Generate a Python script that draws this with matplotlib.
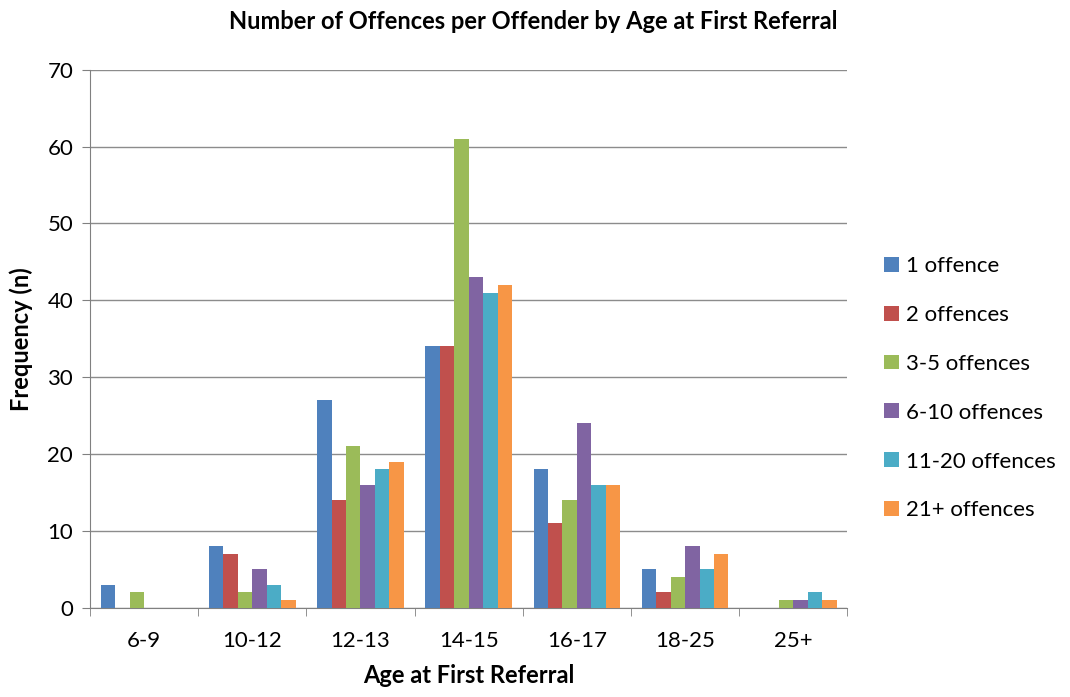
import matplotlib
matplotlib.use("Agg")
import matplotlib.pyplot as plt
import numpy as np

plt.rcParams['font.family'] = ['Lato', 'DejaVu Sans']

categories = ["6-9", "10-12", "12-13", "14-15", "16-17", "18-25", "25+"]
series_names = ["1 offence", "2 offences", "3-5 offences", "6-10 offences", "11-20 offences", "21+ offences"]
s1 = [3, 8, 27, 34, 18, 5, 0]
s2 = [0, 7, 14, 34, 11, 2, 0]
s3 = [2, 2, 21, 61, 14, 4, 1]
s4 = [0, 5, 16, 43, 24, 8, 1]
s5 = [0, 3, 18, 41, 16, 5, 2]
s6 = [0, 1, 19, 42, 16, 7, 1]
series = [s1, s2, s3, s4, s5, s6]
colors = ["#4F81BD", "#C0504D", "#9BBB59", "#8064A2", "#4BACC6", "#F79646"]

fig = plt.figure(figsize=(10.7, 6.97), dpi=100)
ax = fig.add_axes([0.084, 0.128, 0.708, 0.772])

x = np.arange(len(categories))
w = 0.8 / 6
for i, (vals, name, c) in enumerate(zip(series, series_names, colors)):
    ax.bar(x - 0.4 + w * (i + 0.5), vals, width=w, color=c, label=name, zorder=3)

ax.set_xlim(-0.5, len(categories) - 0.5)
ax.set_ylim(0, 70)
ax.set_yticks(range(0, 71, 10))
ax.yaxis.grid(True, color="#8c8c8c", linewidth=1, zorder=0)
ax.set_xticks(x)
ax.set_xticklabels(categories, fontsize=16)
ax.set_xticks(np.arange(-0.5, len(categories)), minor=True)
ax.tick_params(axis='x', which='major', length=0, pad=17)
ax.tick_params(axis='x', which='minor', length=6, color="#808080")
ax.tick_params(axis='y', labelsize=16, length=6, color="#808080", pad=6)
for s in ["top", "right"]:
    ax.spines[s].set_visible(False)
ax.spines["left"].set_color("#808080")
ax.spines["bottom"].set_color("#808080")

ax.set_xlabel("Age at First Referral", fontsize=17, fontweight="bold", labelpad=9)
ax.set_ylabel("Frequency (n)", fontsize=17, fontweight="bold", labelpad=10)
fig.suptitle("Number of Offences per Offender by Age at First Referral", fontsize=17, fontweight="bold", x=0.498, y=0.985)

leg = ax.legend(loc="center left", bbox_to_anchor=(1.022, 0.408), frameon=False, fontsize=16,
                handlelength=0.65, handleheight=0.65, labelspacing=1.3, handletextpad=0.35)

fig.savefig("out.png", dpi=100)
